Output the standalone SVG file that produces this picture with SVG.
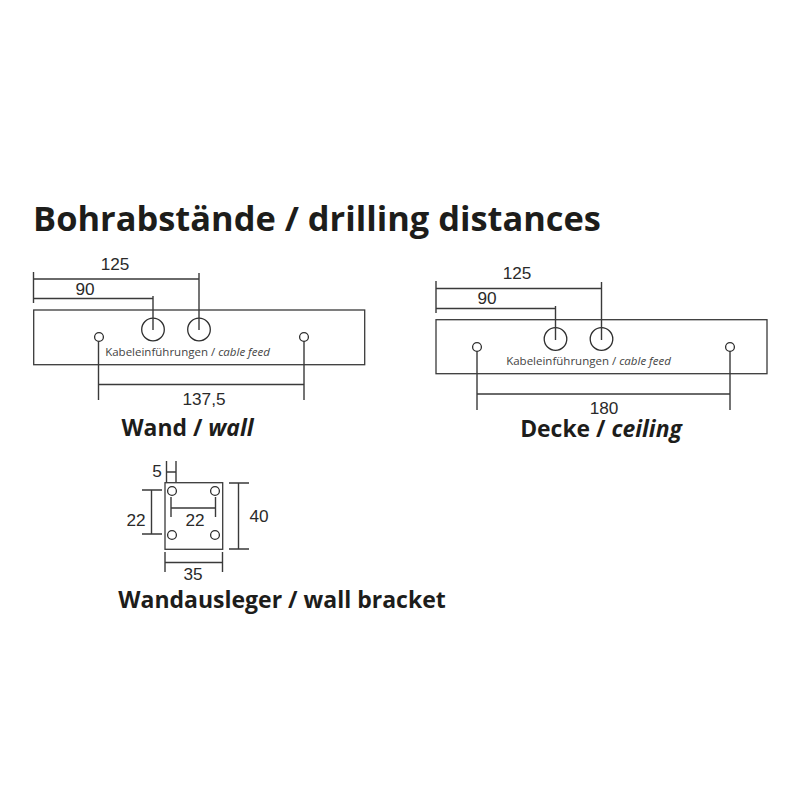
<svg xmlns="http://www.w3.org/2000/svg" width="800" height="800" viewBox="0 0 800 800">
<style>
.b{fill:none;stroke:#3a3a3a;stroke-width:1.3}
.h{fill:#fff;stroke:#2e2e2e;stroke-width:1.3}
.d{fill:none;stroke:#3a3a3a;stroke-width:1.4}
.n{font-family:"Liberation Sans",Arial,sans-serif;font-size:17.2px;fill:#2a2a2a;text-anchor:middle}
.s{font-family:"Open Sans",sans-serif;font-size:11.5px;fill:#444;text-anchor:middle}
.t{font-family:"Open Sans",sans-serif;font-weight:700;fill:#1d1d1b;text-anchor:middle}
</style>
<rect width="800" height="800" fill="#fff"/>
<text id="title" class="t" x="317" y="231" font-size="34.4">Bohrabstände / drilling distances</text>
<g id="wall">
<rect class="b" x="33.7" y="310" width="331" height="54.7"/>
<circle class="h" cx="153" cy="329.5" r="11.3"/><circle class="h" cx="199" cy="329.5" r="11.3"/>
<circle class="h" cx="99" cy="337" r="4.4"/><circle class="h" cx="304" cy="337" r="4.4"/>
<text class="s" x="187.500" y="355.500">Kabeleinführungen / <tspan font-style="italic">cable feed</tspan></text>
<text class="n" x="115" y="270">125</text><text class="n" x="85" y="294.700">90</text><text class="n" x="204" y="405">137,5</text>
<text class="t" x="187.500" y="436" font-size="22.900">Wand / <tspan font-style="italic">wall</tspan></text>
</g>
<g id="ceiling">
<rect class="b" x="436" y="319.700" width="331" height="54"/>
<circle class="h" cx="555.500" cy="339" r="11.3"/><circle class="h" cx="601.500" cy="339" r="11.3"/>
<circle class="h" cx="477" cy="347" r="4.4"/><circle class="h" cx="730" cy="347" r="4.4"/>
<text class="s" x="588.500" y="365">Kabeleinführungen / <tspan font-style="italic">cable feed</tspan></text>
<text class="n" x="517" y="279">125</text><text class="n" x="487" y="304">90</text><text class="n" x="604" y="414">180</text>
<text class="t" x="601" y="436.500" font-size="22.900">Decke / <tspan font-style="italic">ceiling</tspan></text>
</g>
<g id="bracket">
<rect class="b" x="165" y="482.700" width="57.700" height="66.600"/>
<circle class="h" cx="172" cy="491" r="4.4"/><circle class="h" cx="215" cy="491" r="4.4"/>
<circle class="h" cx="172" cy="535" r="4.4"/><circle class="h" cx="215" cy="535" r="4.4"/>
<text class="n" x="157" y="477">5</text><text class="n" x="136" y="525.700">22</text><text class="n" x="195" y="525.700">22</text><text class="n" x="259" y="521.700">40</text><text class="n" x="193" y="580">35</text>
<text class="t" x="282" y="608" font-size="23">Wandausleger / wall bracket</text>
</g>
<g id="connectors">
<path class="d" d="M33.500 272V303M33.500 279H199M199 273V330M33.500 298.500H153M153 296V330M98.500 341V400M304 341V400M98.500 384.500H304"/>
<path class="d" d="M436 281V313M436 288.500H601.500M601.500 282V340M436 308.500H555.500M555.500 306V340M477 351V410M730 351V410M477 394H730"/>
<path class="d" d="M166.500 461V482M176 461V482M166.500 472H176M142 490H162M142 534H162M151.500 490V534M229 483H249M229 549H249M238.500 483V549M171 497V517M215.500 497V517M171 508H215.500M165 552V572M222.500 552V572M165 562.500H222.500"/>
</g>
</svg>
